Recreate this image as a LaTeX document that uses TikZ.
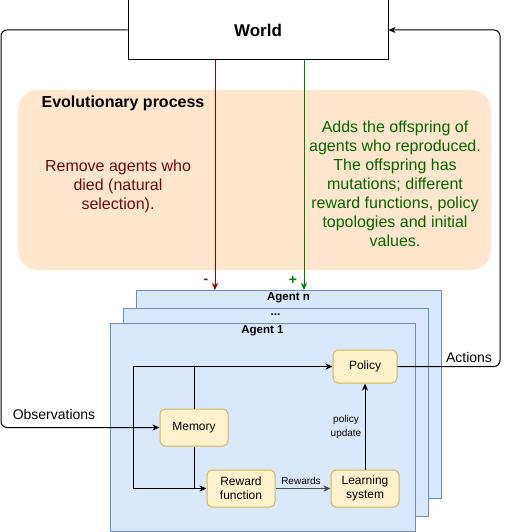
\documentclass[tikz,border=0pt]{standalone}
\usepackage{fontspec}
\setmainfont{Liberation Sans}
\usetikzlibrary{arrows.meta}
\definecolor{evofill}{HTML}{FFE6CC}
\definecolor{evored}{HTML}{990000}
\definecolor{evoredtext}{HTML}{6F0A0A}
\definecolor{evogreen}{HTML}{007F00}
\definecolor{evogreentext}{HTML}{006600}
\definecolor{afill}{HTML}{DAE8FC}
\definecolor{abord}{HTML}{6C8EBF}
\definecolor{yfill}{HTML}{FFF2CC}
\definecolor{ybord}{HTML}{D6B656}
\definecolor{rewgray}{HTML}{4D4D4D}
\newcommand\myfs[2]{\fontsize{#1}{#2}\selectfont}
\begin{document}
\begin{tikzpicture}[x=1pt,y=-1pt,
  box/.style={draw=ybord, fill=yfill, rounded corners=5pt, line width=1pt, minimum width=68pt, minimum height=37pt, align=center, font=\myfs{12}{14}, inner sep=0pt},
  agentbox/.style={draw=abord, fill=afill, line width=1pt, minimum width=305pt, minimum height=208pt, inner sep=0pt},
  conn/.style={line width=1pt, draw=black},
  arr/.style={conn, -{Stealth[length=7pt,width=6pt,inset=2pt]}},
  lbl/.style={inner sep=0pt, align=center}
]
\useasboundingbox (0,0) rectangle (509,532);

% World
\node[draw=black, fill=white, line width=1pt, minimum width=260pt, minimum height=60pt, inner sep=0pt, font=\myfs{17}{20}\bfseries] (world) at (258,30) {World};

% Evolutionary process
\node[fill=evofill, rounded corners=20pt, minimum width=473pt, minimum height=180pt, inner sep=0pt] (evo) at (254.5,180) {};
\node[lbl, font=\myfs{16}{19}\bfseries] (evotitle) at (123,103) {Evolutionary process};
\node[lbl, font=\myfs{16}{19}, text=evoredtext] (remove) at (118,186) {Remove agents who\\died (natural\\selection).};
\node[lbl, font=\myfs{16}{19}, text=evogreentext] (adds) at (395,184) {Adds the offspring of\\agents who reproduced.\\The offspring has\\mutations; different\\reward functions, policy\\topologies and initial\\values.};

% Agents
\node[agentbox] (agentn) at (288.5,394.5) {};
\node[agentbox] (agentdots) at (275.5,412) {};
\node[agentbox] (agent1) at (262.5,427) {};
\node[lbl, font=\myfs{11.5}{13}\bfseries] (agentnlbl) at (288.5,298) {Agent n};
\node[lbl, font=\myfs{11.5}{13}\bfseries] (dotslbl) at (275.5,315) {...};
\node[lbl, font=\myfs{11.5}{13}\bfseries] (agent1lbl) at (262.5,331) {Agent 1};

% Inner boxes
\node[box, minimum width=64pt, minimum height=33pt] (policy) at (365,366.5) {Policy};
\node[box] (memory) at (194,427.5) {Memory};
\node[box] (reward) at (241,488.5) {Reward\\function};
\node[box] (learning) at (365,488.5) {Learning\\system};

% red / green connectors
\coordinate (redx) at (215,0);
\coordinate (greenx) at (304,0);
\draw[arr, draw=evored, color=evored] (world.south -| redx) -- (agentn.north -| redx);
\draw[arr, draw=evogreen, color=evogreen] (world.south -| greenx) -- (agentn.north -| greenx);
\node[lbl, font=\myfs{14}{16}\bfseries, text=evored] (minus) at (206,281) {-};
\node[lbl, font=\myfs{14}{16}\bfseries, text=evogreen] (plus) at (293,280) {+};

% Observations loop
\draw[arr, rounded corners=6pt] (world.west) -- (1,30) |- (memory.west);
\node[lbl, font=\myfs{14}{16}] (obs) at (54,414) {Observations};

% Actions loop
\draw[arr, rounded corners=6pt] (policy.east) -| (500,200) |- (world.east);
\node[lbl, font=\myfs{14}{16}] (act) at (469,357) {Actions};

% Inner connectors
\coordinate (loopx) at (133,0);
\draw[arr] (memory.north) |- (policy.west);
\draw[arr] (memory.south) |- (reward.west);
\draw[conn] (memory.north |- policy.west) -- (loopx |- policy.west) -- (loopx |- reward.west) -- (memory.south |- reward.west);
\draw[arr, draw=rewgray, line width=1.2pt] (reward.east) -- (learning.west);
\node[lbl, font=\myfs{10}{12}] (rewlbl) at (301,481) {Rewards};
\draw[arr] (learning.north) -- (policy.south);
\node[lbl, font=\myfs{10}{13.5}] (updlbl) at (346,427) {policy\\update};
\end{tikzpicture}
\end{document}
